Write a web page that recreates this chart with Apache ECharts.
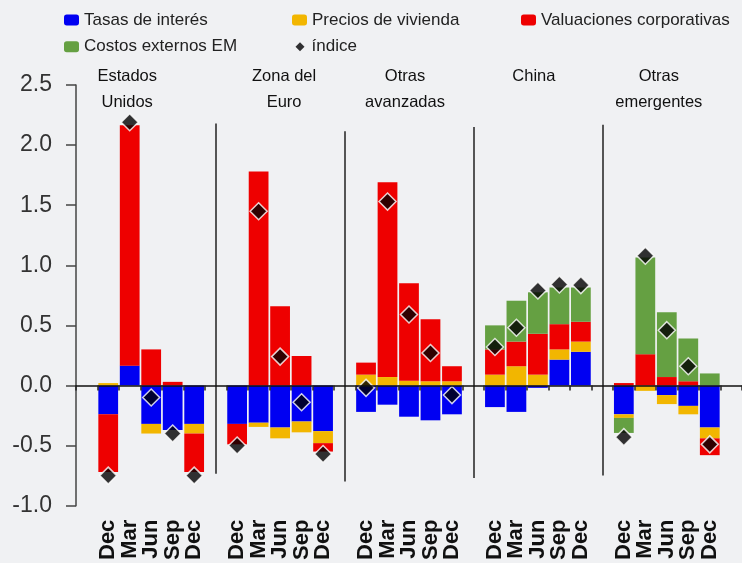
<!DOCTYPE html>
<html>
<head>
<meta charset="utf-8">
<script src="https://cdn.jsdelivr.net/npm/echarts@6/dist/echarts.min.js"></script>
<style>
  html, body { margin: 0; padding: 0; background: #F0F1F3; }
  #c { width: 742px; height: 563px; }
</style>
</head>
<body>
<div id="c"></div>
<script>
// ---- data ----
const periods = ['Dec', 'Mar', 'Jun', 'Sep', 'Dec'];
const groupNames = ['Estados\nUnidos', 'Zona del\nEuro', 'Otras\navanzadas', 'China', 'Otras\nemergentes'];

// values per bar, group by group (5 bars per group)
const tasasInteres = [
  -0.24, 0.165, -0.32, -0.37, -0.32,
  -0.32, -0.31, -0.35, -0.30, -0.38,
  -0.22, -0.16, -0.26, -0.29, -0.24,
  -0.18, -0.22, -0.02, 0.215, 0.28,
  -0.24, 0, -0.08, -0.17, -0.35
];
const preciosVivienda = [
  0.02, 0, -0.08, 0, -0.08,
  0, -0.035, -0.09, -0.09, -0.10,
  0.09, 0.07, 0.04, 0.035, 0.035,
  0.09, 0.16, 0.09, 0.085, 0.085,
  -0.03, -0.045, -0.075, -0.07, -0.09
];
const valuacionesCorporativas = [
  -0.48, 2.0, 0.30, 0.03, -0.32,
  -0.17, 1.78, 0.66, 0.245, -0.07,
  0.10, 1.62, 0.81, 0.515, 0.125,
  0.21, 0.205, 0.34, 0.21, 0.165,
  0.02, 0.26, 0.07, 0.035, -0.14
];
const costosExternosEM = [
  0, 0, 0, 0, 0,
  0, 0, 0, 0, 0,
  0, 0, 0, 0, 0,
  0.20, 0.34, 0.345, 0.305, 0.285,
  -0.125, 0.805, 0.54, 0.355, 0.10
];
const indice = [
  -0.75, 2.19, -0.10, -0.40, -0.75,
  -0.50, 1.45, 0.24, -0.14, -0.57,
  -0.02, 1.53, 0.59, 0.27, -0.08,
  0.32, 0.48, 0.79, 0.84, 0.835,
  -0.43, 1.08, 0.46, 0.16, -0.49
];
// vertical separators between groups (value range)
const dividerTop = [2.18, 2.115, 2.15, 2.17];
const dividerBottom = [-0.735, -0.80, -0.77, -0.75];

// ---- build category slots: gap, 5 bars, gap, 5 bars, ... , gap ----
const FONT = "'Liberation Sans', Arial, sans-serif";
const cats = [''];
const slotOf = [];
groupNames.forEach((g, gi) => {
  periods.forEach((p, pi) => { slotOf.push(cats.length); cats.push(p); });
  cats.push('');
});
function toSlots(arr) {
  const out = cats.map(() => null);
  arr.forEach((v, i) => { out[slotOf[i]] = v; });
  return out;
}
const gapSlots = [6, 12, 18, 24];
const dividerData = gapSlots.map((s, i) => [
  { coord: [s, dividerTop[i]] },
  { coord: [s, dividerBottom[i]] }
]);

const chart = echarts.init(document.getElementById('c'));
const legendText = { fontSize: 17, color: '#222', fontFamily: FONT };
const barBase = {
  type: 'bar', stack: 'total', xAxisIndex: 0, barCategoryGap: '8%',
  emphasis: { disabled: true }, silent: true
};

chart.setOption({
  backgroundColor: '#F0F1F3',
  animation: false,
  textStyle: { fontFamily: FONT },
  grid: { left: 76, top: 85, width: 674, height: 422 },
  legend: [
    { left: 64, top: 11.5, padding: 0, orient: 'vertical', itemGap: 9.7, itemWidth: 15, itemHeight: 11,
      selectedMode: false, textStyle: legendText,
      data: ['Tasas de interés', 'Costos externos EM'] },
    { left: 292, top: 11.5, padding: 0, itemWidth: 15, itemHeight: 11, selectedMode: false, textStyle: legendText,
      data: ['Precios de vivienda'] },
    { left: 295.5, top: 38.2, padding: 0, itemWidth: 9, itemHeight: 9, selectedMode: false,
      textStyle: Object.assign({ padding: [0, 0, 0, 2] }, legendText),
      data: [{ name: 'índice', icon: 'diamond', itemStyle: { borderWidth: 0, color: '#000' } }] },
    { left: 521, top: 11.5, padding: 0, itemWidth: 15, itemHeight: 11, selectedMode: false, textStyle: legendText,
      data: ['Valuaciones corporativas'] }
  ],
  xAxis: [
    { type: 'category', data: cats, position: 'bottom', z: 10,
      axisLine: { onZero: true, lineStyle: { color: '#111', width: 1.5 } },
      axisTick: { show: true, length: 5, interval: 0, lineStyle: { color: '#222', width: 1.5 } },
      axisLabel: { show: false }, splitLine: { show: false } },
    { type: 'category', data: cats, position: 'bottom',
      axisLine: { show: false, onZero: false }, axisTick: { show: false },
      axisLabel: { interval: 0, rotate: 90, fontSize: 22, fontWeight: 'bold', color: '#111',
                   margin: 14, padding: [6, 0, 0, 0], fontFamily: FONT }, splitLine: { show: false } }
  ],
  yAxis: {
    type: 'value', min: -1, max: 2.5, interval: 0.5,
    axisLine: { show: true, onZero: false, lineStyle: { color: '#444', width: 1.5 } },
    axisTick: { show: true, length: 10, lineStyle: { color: '#444', width: 1.5 } },
    splitLine: { show: false },
    axisLabel: { fontSize: 23, color: '#333', margin: 24, fontFamily: FONT,
                 formatter: v => v.toFixed(1) }
  },
  series: [
    Object.assign({}, barBase, { name: 'Tasas de interés', data: toSlots(tasasInteres),
      itemStyle: { color: '#0000F2' },
      markLine: { silent: true, symbol: ['none', 'none'], label: { show: false },
        emphasis: { disabled: true },
        lineStyle: { color: '#555', width: 2, type: 'solid' }, data: dividerData } }),
    Object.assign({}, barBase, { name: 'Precios de vivienda', data: toSlots(preciosVivienda),
      itemStyle: { color: '#F2B600' } }),
    Object.assign({}, barBase, { name: 'Valuaciones corporativas', data: toSlots(valuacionesCorporativas),
      itemStyle: { color: '#EE0000' } }),
    Object.assign({}, barBase, { name: 'Costos externos EM', data: toSlots(costosExternosEM),
      itemStyle: { color: '#65A042' } }),
    { name: 'índice', type: 'scatter', z: 5, silent: true,
      symbol: 'diamond', symbolSize: 17,
      itemStyle: { color: '#000', borderColor: '#fff', borderWidth: 1.5 },
      emphasis: { disabled: true },
      data: indice.map((v, i) => [slotOf[i], v]) }
  ]
});

// group titles anchored to each group's center slot
const labelDx = [-24, 4, -4, -4, -8];
chart.setOption({
  graphic: groupNames.map((name, gi) => ({
    type: 'text',
    x: chart.convertToPixel({ xAxisIndex: 0 }, slotOf[gi * 5 + 2]) + labelDx[gi],
    y: 63,
    silent: true,
    style: { text: name, fontSize: 16.5, fontFamily: FONT, lineHeight: 26, fill: '#111',
             align: 'center', verticalAlign: 'top' }
  }))
});
</script>
</body>
</html>
